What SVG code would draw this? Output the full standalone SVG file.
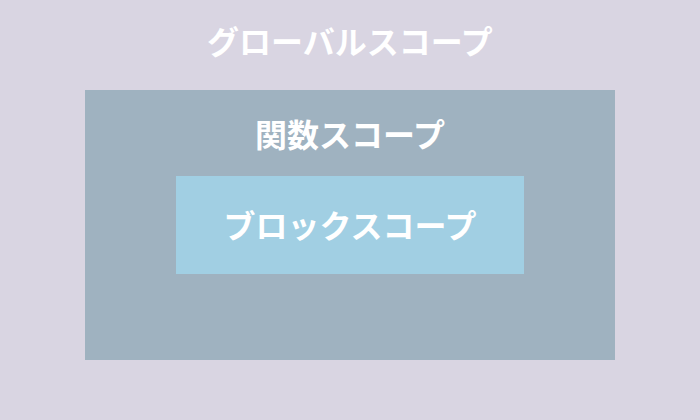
<svg xmlns="http://www.w3.org/2000/svg" width="700" height="420" viewBox="0 0 700 420">
<style>
.t{font-family:"Noto Sans CJK JP","Noto Sans",sans-serif;font-weight:bold;font-size:32px;fill:#ffffff;text-anchor:middle;dominant-baseline:central}
</style>
<g id="global">
<rect x="0" y="0" width="700" height="420" fill="#D9D5E2"/>
<text class="t" x="350" y="40">グローバルスコープ</text>
</g>
<g id="function">
<rect x="85" y="90" width="530" height="270" fill="#9FB2C0"/>
<text class="t" x="350" y="133">関数スコープ</text>
</g>
<g id="block">
<rect x="176" y="176" width="348" height="98" fill="#A1CFE3"/>
<text class="t" x="350" y="224">ブロックスコープ</text>
</g>
<g id="connectors"></g>
</svg>
